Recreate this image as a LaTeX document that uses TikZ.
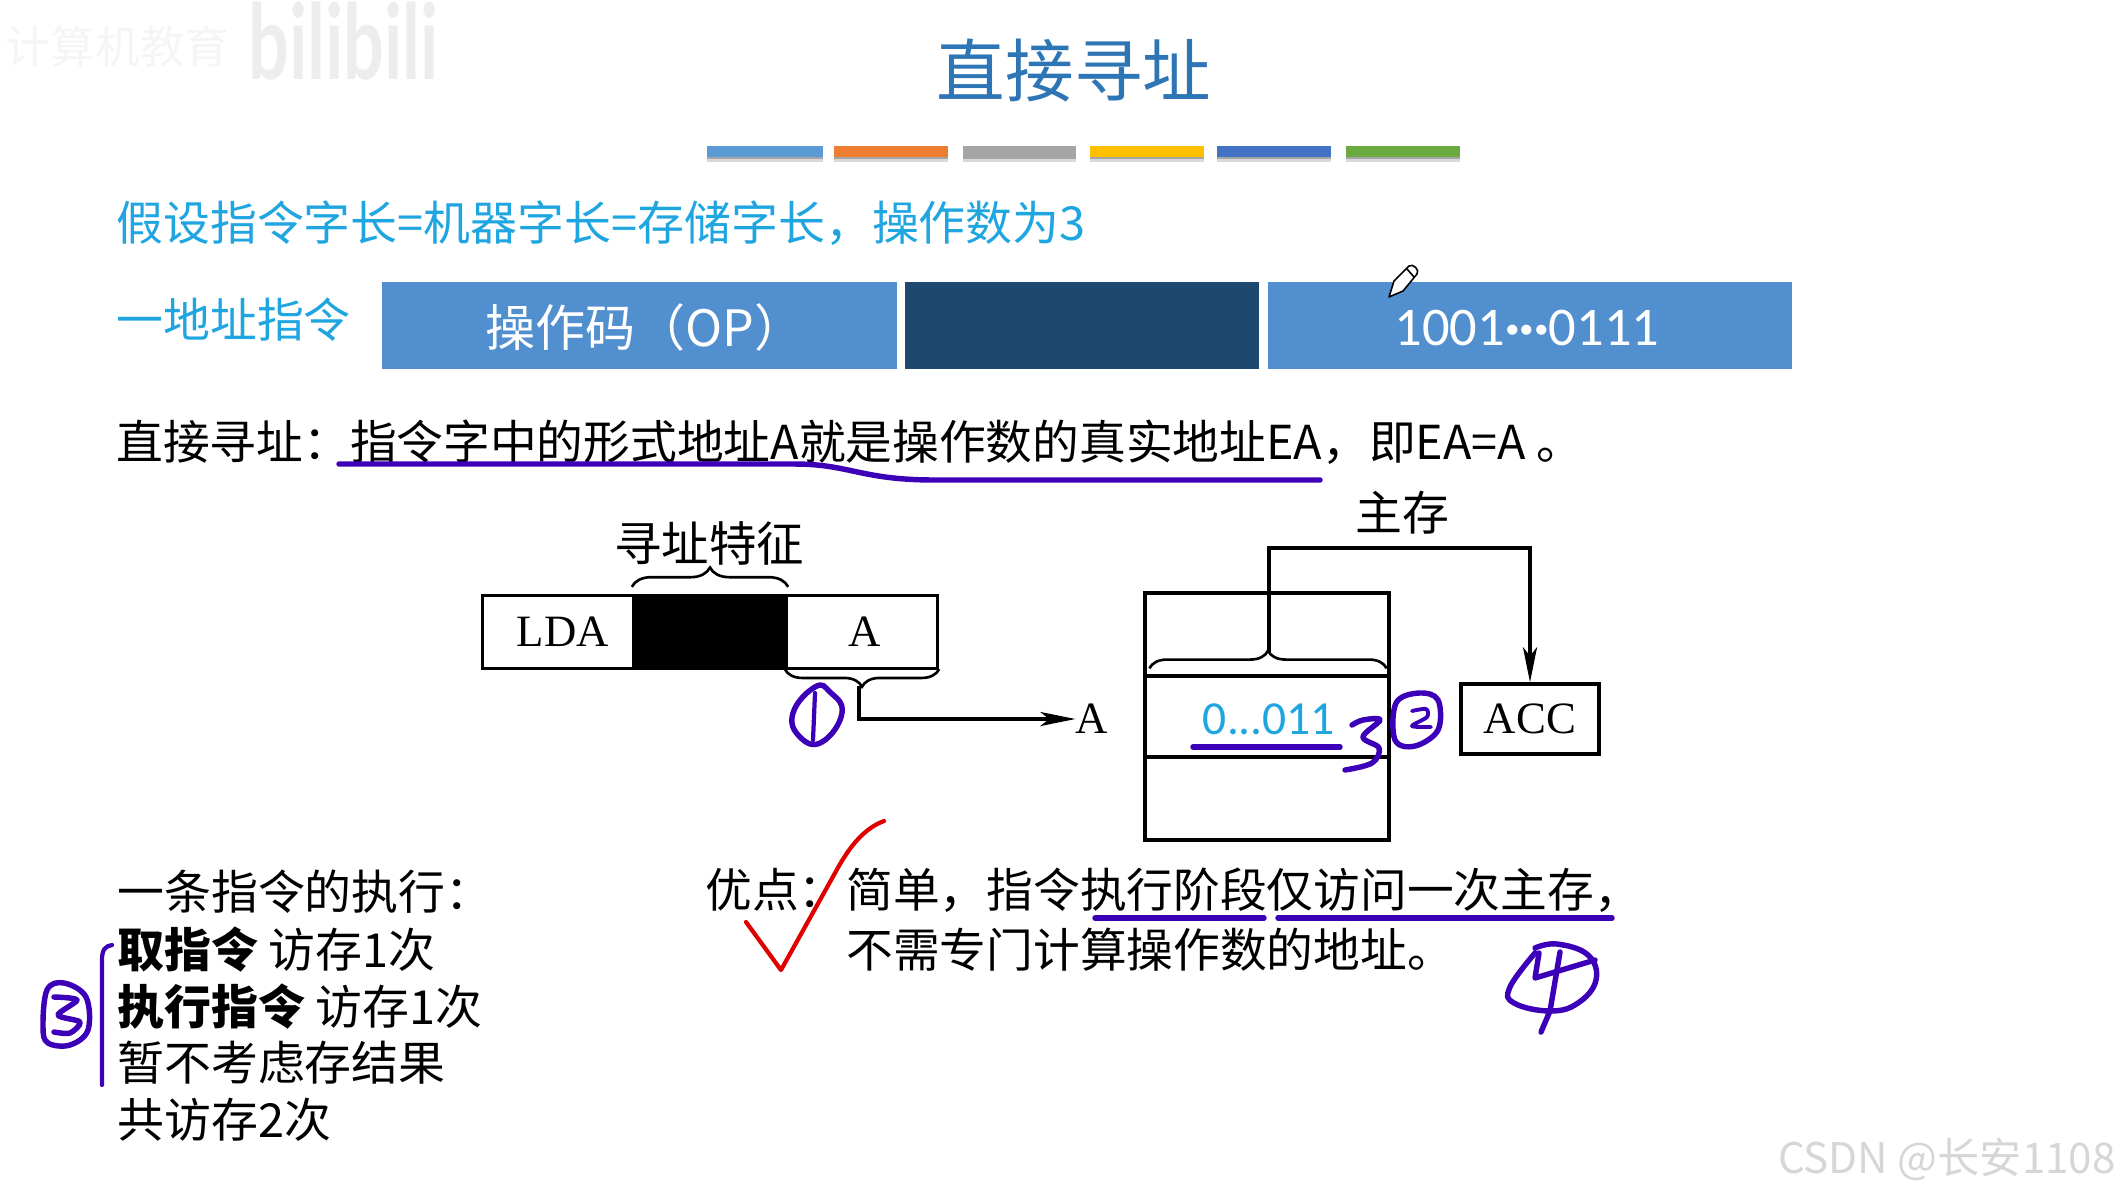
\documentclass[tikz,border=0pt]{standalone}
\usepackage{fontspec}
\setmainfont{Noto Sans CJK SC}
\newfontfamily\figserif{Liberation Serif}
\newfontfamily\numfont{Carlito}
\newfontfamily\wmfont{Lato}
\usetikzlibrary{arrows.meta,positioning,calc,decorations.pathreplacing}
\definecolor{titleblue}{HTML}{2E75B6}
\definecolor{skyblue}{HTML}{1FA5E0}
\definecolor{cellblue}{HTML}{528FCF}
\definecolor{celldark}{HTML}{1F4870}
\definecolor{inkblue}{HTML}{3C00B8}
\definecolor{inkred}{HTML}{E00000}
\newcommand{\fs}[1]{\fontsize{#1}{#1}\selectfont}
\tikzset{
  txt/.style={inner sep=0pt,anchor=west,font=\fs{26.6}},
  listtxt/.style={txt,font=\fs{26.7}},
  bluetxt/.style={txt,text=skyblue,font=\fs{26.7}},
  opcell/.style={inner sep=0pt,text=white,fill=cellblue,minimum height=1.74cm},
  figcell/.style={draw=black,line width=1.9pt,inner sep=0pt,font=\figserif\fs{25.5}},
  figbrace/.style={draw=black,line width=1.5pt,decorate},
  link/.style={draw=black,line width=1.9pt},
  tip/.style={-{Stealth[length=20pt,width=8pt,inset=5pt]}},
  ink/.style={draw=inkblue,line width=3.1pt,line cap=round,line join=round},
  thinink/.style={ink,line width=2.4pt}
}
\begin{document}
\begin{tikzpicture}[x=0.02cm,y=-0.02cm]
\useasboundingbox (0,0) rectangle (2118,1194);
% watermarks
\node[inner sep=0pt,anchor=east,text=black!4,font=\fs{25.5}] (wmedu) at (230,46) {计算机教育};
\node[inner sep=0pt,anchor=west,text=black!7,font=\wmfont\bfseries\fs{44},xscale=0.93,yscale=1.35] (wmbili) at (248,41) {bilibili};
\node[inner sep=0pt,anchor=east,text=black!16,font=\fs{24}] (wmcsdn) at (2116,1159) {CSDN @长安1108};
% title and colour bars
\node[inner sep=0pt,text=titleblue,font=\fs{39}] (title) at (1074,70) {直接寻址};
\foreach \xa/\xb/\barcol in {707/823/5B9BD5,834/948/ED7D31,963/1076/A5A5A5,1090/1204/FFC000,1217/1331/4472C4,1346/1460/6BAA40}{
  \definecolor{barcol}{HTML}{\barcol}
  \fill[black!15] (\xa,157) rectangle (\xb,162);
  \fill[black!35] (\xa,157) rectangle (\xb,159);
  \fill[barcol] (\xa,146) rectangle (\xb,157);
}
% instruction format
\node[bluetxt] (assume) at (116,223) {假设指令字长=机器字长=存储字长，操作数为3};
\node[bluetxt] (oneaddr) at (116,320) {一地址指令};
\node[opcell,minimum width=10.3cm] (opcode) at (639.5,325.5) {};
\node[inner sep=0pt,text=white,font=\fs{28.5}] (optext) at (645,327) {操作码（OP）};
\node[opcell,minimum width=7.08cm,fill=celldark] (opgap) at (1082,325.5) {};
\node[opcell,minimum width=10.48cm] (opaddr) at (1530,325.5) {};
\node[inner sep=0pt,text=white,font=\numfont\fs{31}] (addrtext) at (1527,328) {1001\textbf{···}0111};
% pencil cursor
\draw[fill=white,line width=0.9pt,line join=round] (1389,297) -- (1394,281) -- (1409,266)
   .. controls (1413,263) and (1420,270) .. (1417,274) -- (1403,291) -- cycle;
\draw[line width=0.9pt] (1407,269) -- (1414,277);
% definition line
\node[txt] (direct) at (116,442) {直接寻址：指令字中的形式地址A就是操作数的真实地址EA，即EA=A 。};
\draw[ink] (339,464) -- (794,464) .. controls (850,464) and (860,480) .. (935,480) -- (1320,480);
% instruction word figure
\node[inner sep=0pt,font=\fs{27}] (feature) at (709,543) {寻址特征};
\node[figcell,minimum width=3.02cm,minimum height=1.46cm] (lda) at (558,632) {};
\node[inner sep=0pt,font=\figserif\fs{25.5}] (ldaname) at (563,632) {LDA};
\node[figcell,minimum width=3.06cm,minimum height=1.46cm,fill=black] (mode) at (710,632) {};
\node[figcell,minimum width=3.02cm,minimum height=1.46cm] (addr) at (862,632) {};
\node[inner sep=0pt,font=\figserif\fs{25.5}] (addrname) at (865,632) {A};
\draw[figbrace,decoration={brace,amplitude=11pt}] ($(mode.north west)+(0,-7)$) -- ($(mode.north east)+(0,-7)$);
\draw[figbrace,decoration={brace,amplitude=10pt}] ($(addr.south east)+(0,-1)$) -- ($(addr.south west)+(0,-1)$);
\coordinate (addrtip) at (859,686);
\node[inner sep=0pt,font=\figserif\fs{25.5}] (ea) at (1092,719) {A};
\draw[link,tip] (addrtip) |- (ea.west);
% main memory figure
\node[inner sep=0pt,font=\fs{26.7}] (mainmem) at (1402,513) {主存};
\node[figcell,minimum width=4.88cm,minimum height=1.66cm] (memtop) at (1267,634.5) {};
\node[figcell,minimum width=4.88cm,minimum height=1.62cm] (memmid) at (1267,716.5) {};
\node[figcell,minimum width=4.88cm,minimum height=1.66cm] (membot) at (1267,798.5) {};
\node[inner sep=0pt,text=skyblue,font=\numfont\fs{27}] (memval) at (1269,719) {0...011};
\node[figcell,minimum width=2.76cm,minimum height=1.4cm] (acc) at (1530,719) {ACC};
\draw[figbrace,decoration={brace,amplitude=10pt}] ($(memmid.north west)+(6,-6)$) -- ($(memmid.north east)+(-4,-6)$);
\coordinate (memtip) at (1269,652);
\coordinate (memturn) at (1269,548);
\draw[link,tip] (memtip) -- (memturn) -| (acc.north);
\draw[ink] (1193,747) -- (1340,747);
% handwritten marks on the figures
\draw[ink] plot[smooth cycle,tension=0.8] coordinates {(815,687) (793,713) (800,737) (822,742) (842,713) (830,692)};
\draw[ink,line width=2.4pt] (815,693) -- (813,740);
\draw[ink] plot[smooth,tension=0.6] coordinates {(1352,725) (1363,720) (1380,720) (1363,737) (1379,748) (1372,763) (1345,770)};
\draw[ink] plot[smooth cycle,tension=0.6] coordinates {(1419,693) (1396,703) (1395,740) (1415,746) (1438,730) (1438,700)};
\draw[ink,line width=2.2pt] plot[smooth,tension=0.5] coordinates {(1412,711) (1426,709) (1427,717) (1412,726) (1431,727)};
% execution steps
\node[listtxt] (steps) at (117,892) {一条指令的执行：};
\node[listtxt] (fetch) at (117,950) {\textbf{取指令} 访存1次};
\node[listtxt] (exec) at (117,1007) {\textbf{执行指令} 访存1次};
\node[listtxt] (noresult) at (117,1063) {暂不考虑存结果};
\node[listtxt] (total) at (117,1120) {共访存2次};
\draw[thinink] (102,1085) -- (102,960) .. controls (102,950) and (105,946) .. (112,945);
\draw[ink] plot[smooth cycle,tension=0.6] coordinates {(64,983) (47,990) (43,1027) (48,1043) (70,1045) (88,1030) (86,997)};
\draw[ink] plot[smooth,tension=0.5] coordinates {(54,997) (77,1000) (58,1015) (80,1022) (70,1033) (54,1032)};
% advantages
\node[txt] (merit) at (705,890) {优点：};
\node[txt] (meritone) at (846,890) {简单，指令执行阶段仅访问一次主存，};
\node[txt] (merittwo) at (846,950) {不需专门计算操作数的地址。};
\draw[draw=inkred,line width=2.4pt,line join=round,line cap=round] (746,922) -- (781,970) -- (835,873) .. controls (850,845) and (865,828) .. (884,821);
\draw[ink] (1095,918) -- (1264,918);
\draw[ink] (1278,918) -- (1612,918);
\draw[ink] plot[smooth,tension=0.7] coordinates {(1535,948) (1557,944) (1588,955) (1596,980) (1578,1003) (1550,1011) (1514,1003) (1510,987) (1535,953)};
\draw[ink] (1539,953) -- (1535,978) -- (1595,960);
\draw[ink] (1560,952) -- (1550,1011) -- (1541,1032);
\end{tikzpicture}
\end{document}
